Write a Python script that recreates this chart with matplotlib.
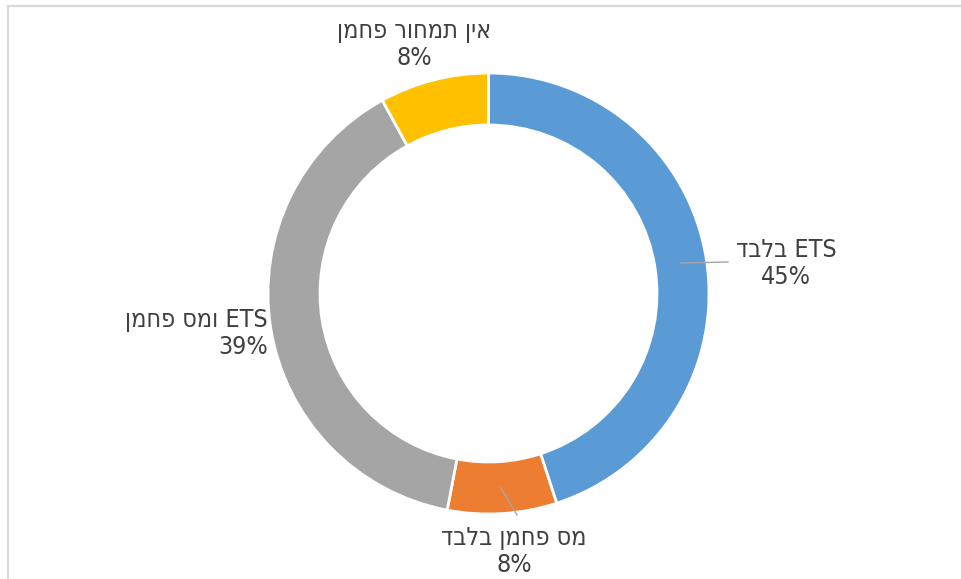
#!/usr/bin/env python3
"""Donut chart: share of carbon pricing instruments (Hebrew labels)."""

import numpy as np
import matplotlib.pyplot as plt

# data
categories = ['ETS בלבד', 'מס פחמן בלבד', 'ETS ומס פחמן', 'אין תמחור פחמן']
shares = [45, 8, 39, 8]
pct_labels = ['45%', '8%', '39%', '8%']
colors = ['#5B9BD5', '#ED7D31', '#A5A5A5', '#FFC000']

W, H = 961, 579
TEXT_COLOR = '#404040'
FONT = ['DejaVu Sans']


def visual(s):
    """Put a logical RTL string into left-to-right glyph order for matplotlib."""
    out = []
    for tok in reversed(s.split(' ')):
        if any('\u0590' <= ch <= '\u05ff' for ch in tok):
            tok = tok[::-1]
        out.append(tok)
    return ' '.join(out)


def py(y):
    # pixel row (top down) -> data y (bottom up)
    return H - y


fig = plt.figure(figsize=(W / 100, H / 100), dpi=100)
ax = fig.add_axes([0, 0, 1, 1])

cx, cy = 488.5, py(293.5)
r_out, ring = 220.5, 52

ax.pie(shares, colors=colors, startangle=90, counterclock=False,
       radius=r_out, center=(cx, cy),
       wedgeprops=dict(width=ring, edgecolor='white', linewidth=2.0))

ax.set_xlim(0, W)
ax.set_ylim(0, H)
ax.set_aspect('auto')
ax.axis('off')

# chart frame (cut off by the image at right and bottom)
ax.plot([8, W + 5], [py(6), py(6)], color='#D9D9D9', lw=1.6, clip_on=False)
ax.plot([8, 8], [py(6), py(H + 5)], color='#D9D9D9', lw=1.6, clip_on=False)

# label layout: (x, baseline1, baseline2, align)
layout = [
    (786, 257, 284, 'center'),
    (514, 545, 572, 'center'),
    (268, 327, 354, 'right'),
    (414, 38, 65, 'center'),
]

# leader lines for the slices whose labels sit outside the ring
total = float(sum(shares))
cum = np.cumsum(shares) - np.array(shares) / 2.0
mid = np.deg2rad(90 - 360 * cum / total)
r_mid = r_out - ring / 2.0
leader_end = {0: (728, 262), 1: (517, 515)}
for i, (ex, ey) in leader_end.items():
    sx = cx + r_mid * np.cos(mid[i])
    sy = cy + r_mid * np.sin(mid[i])
    ax.plot([sx, ex], [sy, py(ey)], color='#A6A6A6', lw=1.0)

for name, pct, (x, b1, b2, ha) in zip(categories, pct_labels, layout):
    ax.text(x, py(b1), visual(name), ha=ha, va='baseline', fontsize=18,
            color=TEXT_COLOR, family=FONT, fontstretch='condensed')
    ax.text(x, py(b2), pct, ha=ha, va='baseline', fontsize=18,
            color=TEXT_COLOR, family=FONT, fontstretch='condensed')

fig.savefig('out.png', dpi=100)
plt.close(fig)
